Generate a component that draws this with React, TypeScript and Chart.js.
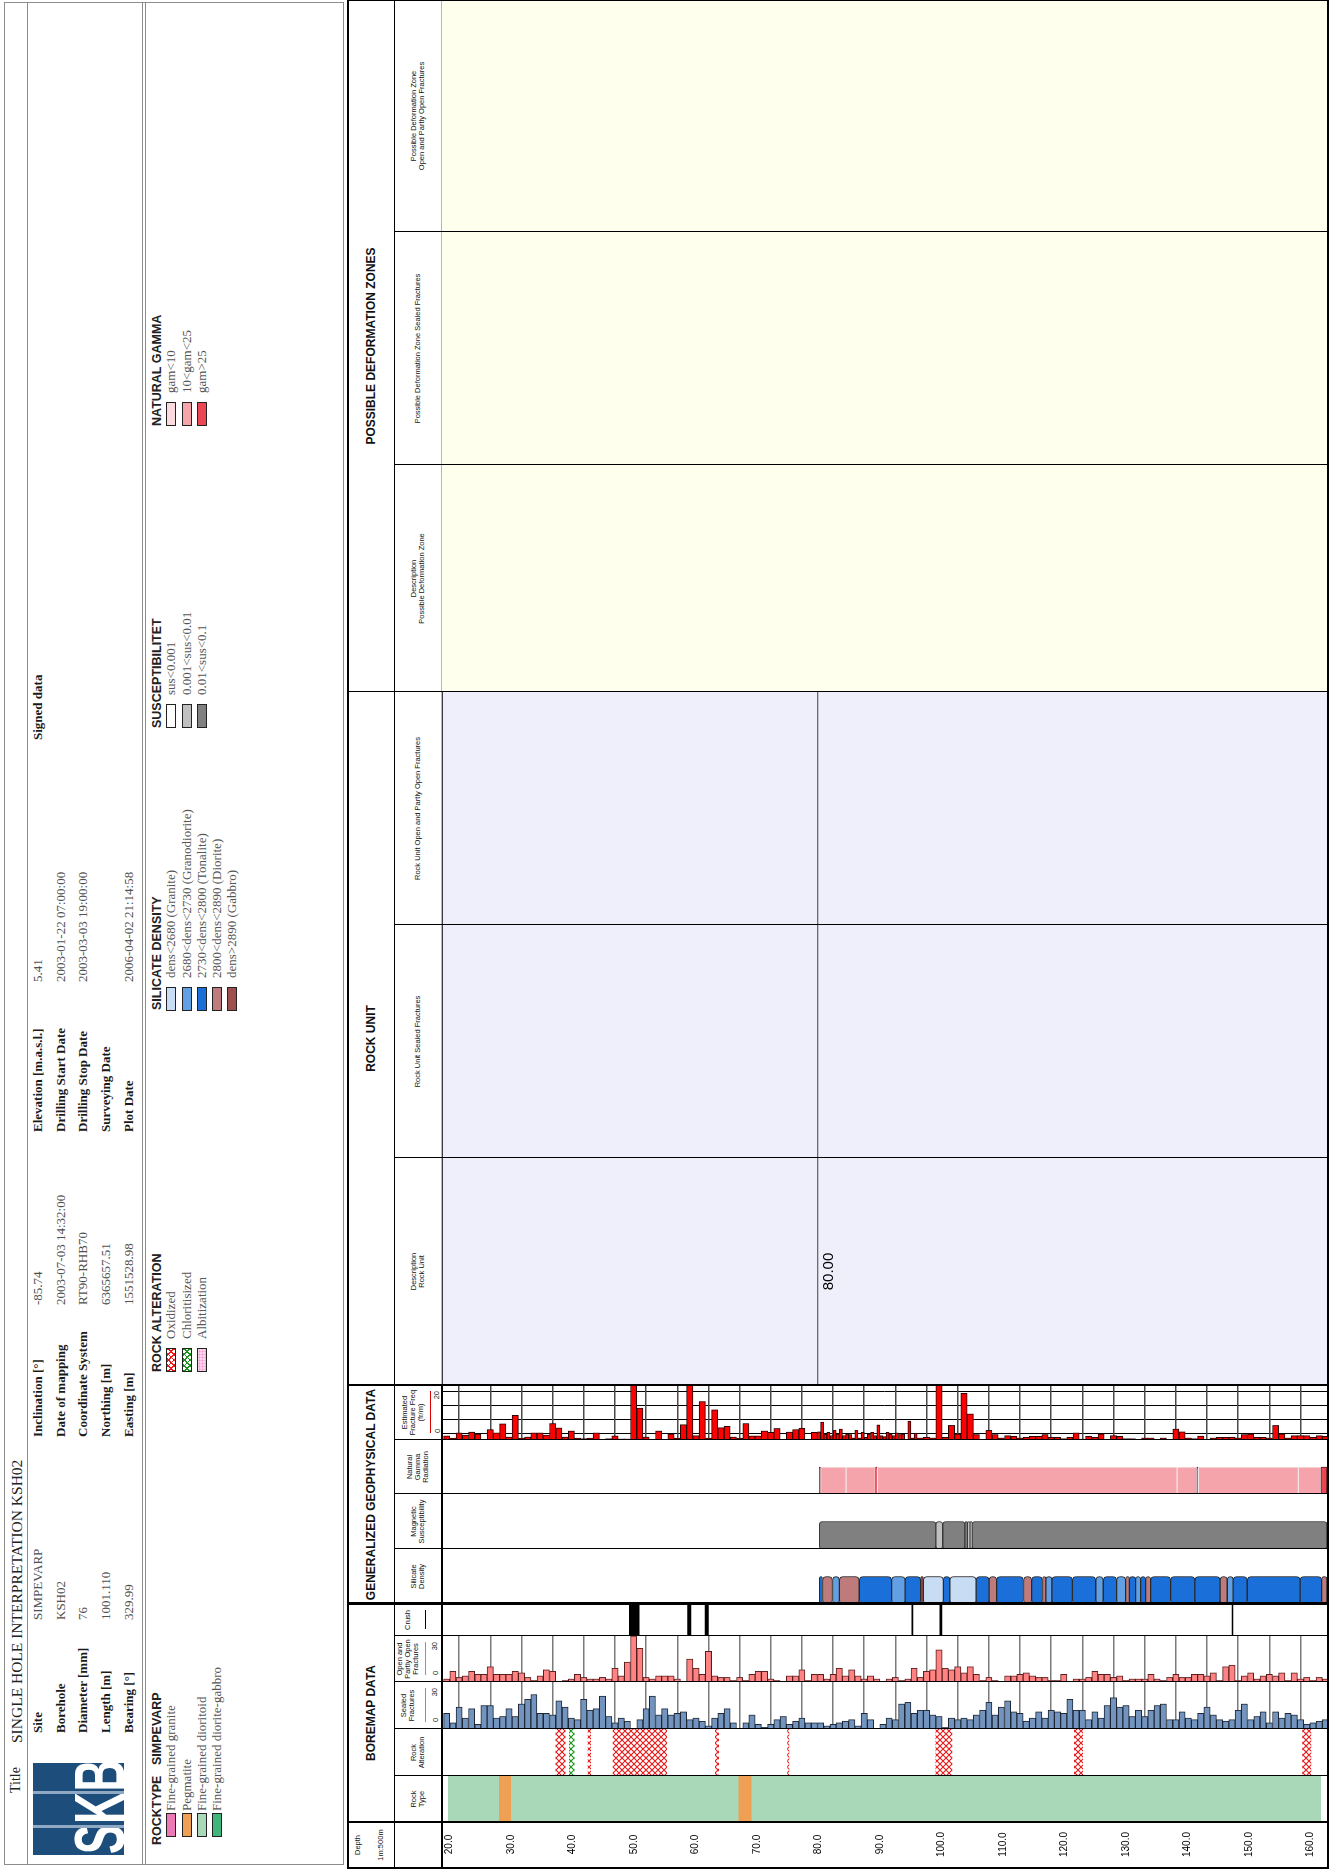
import React, { useEffect, useRef } from "react";
import { Chart, registerables } from "chart.js";

Chart.register(...registerables);
Chart.defaults.font.family = "'Liberation Sans', Arial, sans-serif";

// ---------------- depth axis ----------------
const DEPTH_MIN = 19.75;
const DEPTH_MAX = 161.75;
const DEPTH_LABELS = [20, 30, 40, 50, 60, 70, 80, 90, 100, 110, 120, 130, 140, 150, 160];
const FRACTURE_GRID = [
  20, 25, 30, 35, 40, 45, 50, 55, 60, 65, 70, 75, 80, 85, 90, 95, 100, 105, 110, 115, 120, 125, 130,
  135, 140, 145, 150, 155, 160,
];

// ---------------- fracture histograms (1 m bins from BIN_START) ----------------
const SEALED_MAX = 30;
const OPEN_MAX = 30;
const FREQ_MAX = 20;
const FREQ_GRID = [5, 10, 15];

const BIN_START = 20;
const SEALED_FRACTURES = [
  10, 4, 14, 7, 13, 3, 15, 15, 7, 8,
  13, 8, 16, 19, 22, 10, 10, 9, 18, 14,
  7, 6, 19, 12, 13, 21, 8, 4, 7, 5,
  0, 6, 13, 21, 9, 13, 9, 10, 11, 6,
  7, 5, 2, 7, 10, 13, 4, 0, 4, 9,
  3, 1, 3, 6, 8, 3, 5, 7, 4, 4,
  4, 2, 3, 4, 5, 6, 2, 10, 6, 0,
  3, 7, 6, 16, 17, 10, 12, 12, 9, 8,
  1, 7, 6, 7, 6, 9, 12, 17, 9, 14,
  18, 11, 10, 5, 7, 11, 7, 12, 11, 10,
  19, 12, 12, 6, 11, 7, 15, 20, 14, 15,
  8, 12, 8, 12, 15, 16, 6, 6, 11, 7,
  6, 10, 14, 9, 6, 5, 6, 12, 16, 6,
  8, 11, 4, 11, 7, 10, 9, 6, 3, 4,
  5, 6,
];
const OPEN_FRACTURES = [
  2, 7, 3, 4, 7, 5, 5, 10, 5, 5,
  5, 7, 6, 3, 1, 4, 8, 7, 0, 1,
  2, 5, 3, 2, 2, 3, 2, 9, 4, 13,
  30, 22, 3, 2, 4, 4, 4, 2, 0, 15,
  9, 5, 20, 4, 3, 3, 1, 3, 1, 5,
  7, 7, 2, 1, 0, 4, 4, 8, 1, 5,
  5, 2, 5, 9, 4, 8, 4, 2, 4, 2,
  0, 2, 3, 1, 2, 9, 3, 7, 8, 21,
  9, 8, 10, 6, 10, 5, 1, 3, 1, 0,
  4, 4, 5, 6, 4, 3, 3, 1, 1, 5,
  0, 2, 2, 3, 7, 5, 5, 3, 4, 1,
  2, 2, 2, 5, 2, 1, 3, 5, 3, 3,
  5, 5, 4, 6, 1, 10, 11, 1, 4, 6,
  2, 4, 5, 4, 6, 1, 6, 2, 3, 1,
  3, 2,
];

// estimated fracture frequency: 1 m bins, a 0.5 m stretch, then 1 m bins again
const FREQ_UPPER_START = 20;
const FREQ_UPPER = [
  1.5, 0.7, 2.6, 1.8, 2.9, 2.2, 0, 3.8, 2.6, 5.9,
  1.1, 9, 0.7, 1.1, 2.6, 2.6, 1.8, 6, 4.4, 1.1,
  3.3, 0.7, 0.5, 0.7, 2.6, 0, 0.5, 1.5, 0.4, 0.4,
  24, 11.6, 1.1, 0, 3.3, 0.2, 2.2, 0.7, 5.6, 24,
  1.6, 14, 0.7, 11, 4.5, 5, 1.1, 0.7, 6, 1.5,
  1.5, 3.3, 2.8, 4.2, 0, 2.9, 3.8, 4.3, 0, 2.8,
];
const FREQ_FINE_START = 80;
const FREQ_FINE = [
  3, 6.5, 2.2, 2.8, 1.6, 3.5, 2.2, 4, 1.6, 2.2,
  2, 0.75, 3.5, 0.75, 2.8, 1, 2.2, 2.8, 1.6, 5.5,
  1.6, 1.25, 2.8, 2.2, 1.6, 2.6, 2, 2.2, 0.25, 6.9,
  0.75, 2.5,
];
const FREQ_LOWER_START = 96;
const FREQ_LOWER = [
  0.75, 1, 0.75, 24, 1, 5.3, 2.2, 17, 9.5, 2,
  0, 3.5, 2, 0.75, 1.6, 1.35, 0.75, 1, 1.35, 1.35,
  2, 1, 1, 0.5, 1, 2.6, 0.35, 1.35, 1, 2.2,
  0.25, 1.6, 1.35, 0.5, 0.5, 0.25, 0.75, 0.75, 0, 0.75,
  0.25, 4, 3, 0.75, 0.5, 1.45, 0.25, 0.75, 1, 1,
  1, 0.75, 2, 2.2, 1, 1, 0.75, 5.3, 2.2, 0.75,
  1.6, 1.6, 1.6, 1, 1.6, 1.35,
];

// ---------------- interval logs [from, to, class] ----------------
type Interval = [number, number, string];

const ROCK_TYPE: Interval[] = [
  [19.75, 28.1, "dioritoid"],
  [28.1, 30.05, "pegmatite"],
  [30.05, 67.05, "dioritoid"],
  [67.05, 69.15, "pegmatite"],
  [69.15, 161.75, "dioritoid"],
];

const ROCK_ALTERATION: Interval[] = [
  [38.0, 39.5, "oxidized"],
  [40.2, 40.95, "chloritisized"],
  [43.2, 43.6, "oxidized"],
  [47.2, 49.6, "oxidized"],
  [49.6, 55.8, "oxidized"],
  [63.6, 64.15, "oxidized"],
  [75.2, 75.4, "oxidized"],
  [99.0, 101.55, "oxidized"],
  [121.2, 122.55, "oxidized"],
  [157.85, 159.15, "oxidized"],
];

const CRUSH: Interval[] = [
  [49.8, 51.4, "crush"],
  [59.15, 59.7, "crush"],
  [61.95, 62.5, "crush"],
  [95.15, 95.3, "crush"],
  [99.62, 99.98, "crush"],
  [146.5, 146.65, "crush"],
];

const SILICATE_DENSITY: Interval[] = [
  [80.3, 80.8, "tonalite"],
  [80.8, 82.4, "diorite"],
  [82.4, 83.5, "granodiorite"],
  [83.5, 86.7, "diorite"],
  [86.7, 91.9, "tonalite"],
  [91.9, 94.05, "granodiorite"],
  [94.05, 96.55, "tonalite"],
  [96.55, 97.0, "gabbro"],
  [97.0, 100.2, "granite"],
  [100.2, 101.25, "tonalite"],
  [101.25, 105.45, "granite"],
  [105.45, 107.55, "tonalite"],
  [107.55, 108.75, "diorite"],
  [108.75, 113.05, "tonalite"],
  [113.05, 114.35, "diorite"],
  [114.35, 116.1, "tonalite"],
  [116.1, 116.65, "diorite"],
  [116.65, 117.6, "granodiorite"],
  [117.6, 120.9, "tonalite"],
  [120.9, 124.65, "tonalite"],
  [124.65, 125.85, "granodiorite"],
  [125.85, 128.0, "tonalite"],
  [128.0, 129.45, "granodiorite"],
  [129.45, 130.05, "diorite"],
  [130.05, 131.05, "tonalite"],
  [131.05, 131.85, "granodiorite"],
  [131.85, 132.65, "tonalite"],
  [132.65, 133.45, "diorite"],
  [133.45, 136.65, "tonalite"],
  [136.65, 140.55, "tonalite"],
  [140.55, 144.6, "tonalite"],
  [144.6, 145.75, "diorite"],
  [145.75, 146.7, "granodiorite"],
  [146.7, 148.95, "tonalite"],
  [148.95, 157.45, "tonalite"],
  [157.45, 160.9, "tonalite"],
  [160.9, 161.75, "diorite"],
];

const MAGNETIC_SUSCEPTIBILITY: Interval[] = [
  [80.3, 99.0, "high"],
  [99.0, 100.1, "mid"],
  [100.1, 103.65, "high"],
  [103.65, 104.05, "high"],
  [104.05, 104.5, "mid"],
  [104.5, 104.8, "mid"],
  [104.8, 161.75, "high"],
];

const NATURAL_GAMMA: Interval[] = [
  [80.3, 80.5, "high"],
  [80.5, 84.6, "mid"],
  [84.6, 89.3, "mid"],
  [89.3, 89.6, "high"],
  [89.6, 137.7, "mid"],
  [137.7, 140.85, "mid"],
  [140.85, 141.1, "high"],
  [141.1, 157.15, "mid"],
  [157.15, 160.75, "mid"],
  [160.75, 161.75, "high"],
];

const ROCK_UNIT_TOPS = [19.75, 80.0];
const ROCK_UNITS: [number, number][] = ROCK_UNIT_TOPS.map((top, i) => [
  top,
  i + 1 < ROCK_UNIT_TOPS.length ? ROCK_UNIT_TOPS[i + 1] : DEPTH_MAX,
]);

// ---------------- colours and legends ----------------
const ROCK_COLORS: Record<string, string> = {
  granite: "#EC78B6",
  pegmatite: "#F0A055",
  dioritoid: "#A9D8B8",
  dioriteGabbro: "#40B77A",
};
const ROCKTYPE_LEGEND: [string, string][] = [
  ["granite", "Fine-grained granite"],
  ["pegmatite", "Pegmatite"],
  ["dioritoid", "Fine-grained dioritoid"],
  ["dioriteGabbro", "Fine-grained diorite-gabbro"],
];

const ALTERATION_COLORS: Record<string, string> = {
  oxidized: "#E81818",
  chloritisized: "#169416",
  albitization: "#F49AD0",
};
const ALTERATION_LEGEND: [string, string][] = [
  ["oxidized", "Oxidized"],
  ["chloritisized", "Chloritisized"],
  ["albitization", "Albitization"],
];

const DENSITY_COLORS: Record<string, string> = {
  granite: "#C8DCF4",
  granodiorite: "#62A0E6",
  tonalite: "#1B6FD8",
  diorite: "#BF7B7B",
  gabbro: "#A04F4F",
};
const DENSITY_LEGEND: [string, string][] = [
  ["granite", "dens<2680 (Granite)"],
  ["granodiorite", "2680<dens<2730 (Granodiorite)"],
  ["tonalite", "2730<dens<2800 (Tonalite)"],
  ["diorite", "2800<dens<2890 (Diorite)"],
  ["gabbro", "dens>2890 (Gabbro)"],
];

const SUSCEPTIBILITY_COLORS: Record<string, string> = { low: "#FFFFFF", mid: "#C0C0C0", high: "#808080" };
const SUSCEPTIBILITY_LEGEND: [string, string][] = [
  ["low", "sus<0.001"],
  ["mid", "0.001<sus<0.01"],
  ["high", "0.01<sus<0.1"],
];

const GAMMA_COLORS: Record<string, string> = { low: "#FBDADF", mid: "#F5A4AB", high: "#EC4654" };
const GAMMA_LEGEND: [string, string][] = [
  ["low", "gam<10"],
  ["mid", "10<gam<25"],
  ["high", "gam>25"],
];

const SEALED_FILL = "#7294BE";
const OPEN_FILL = "#FF8383";
const FREQ_FILL = "#FF0000";
const ROCK_UNIT_FILL = "#EFEFFC";
const DEFORMATION_FILL = "#FFFFEE";

// ---------------- chart helpers ----------------
const base = (scales: any, extra: any = {}) => ({
  animation: false,
  responsive: false,
  maintainAspectRatio: false,
  devicePixelRatio: 1,
  events: [],
  layout: { padding: 0 },
  plugins: { legend: { display: false }, tooltip: { enabled: false }, title: { display: false } },
  scales,
  ...extra,
});

const depthAxis = (extra: any = {}) => ({
  type: "linear",
  reverse: true,
  min: DEPTH_MIN,
  max: DEPTH_MAX,
  offset: false,
  display: false,
  ...extra,
});

const laneAxis = (lanes: string[]) => ({ type: "category", labels: lanes, offset: true, display: false });

function crossHatch(ctx: CanvasRenderingContext2D, color: string) {
  const tile = document.createElement("canvas");
  tile.width = 6;
  tile.height = 6;
  const g = tile.getContext("2d")!;
  g.strokeStyle = color;
  g.lineWidth = 1.1;
  g.beginPath();
  g.moveTo(0, 0);
  g.lineTo(6, 6);
  g.moveTo(6, 0);
  g.lineTo(0, 6);
  g.stroke();
  return ctx.createPattern(tile, "repeat");
}

function segmentChart(intervals: Interval[], fillOf: (k: string, ctx: any) => any, o: any = {}) {
  return (ctx: CanvasRenderingContext2D) => ({
    type: "bar",
    data: {
      datasets: [
        {
          data: intervals.map(([a, b]) => ({ x: "lane", y: [a, b] })),
          backgroundColor: intervals.map((s) => fillOf(s[2], ctx)),
          borderColor: o.border ? intervals.map((s) => o.border(s[2])) : "rgba(0,0,0,0)",
          borderWidth: o.borderWidth ?? 0,
          borderRadius: o.radius ?? 0,
          borderSkipped: false,
          barPercentage: 1,
          categoryPercentage: 1,
          grouped: false,
        },
      ],
    },
    options: base(
      { x: laneAxis(o.halfWidth ? ["lane", "rest"] : ["lane"]), y: depthAxis(o.depthAxis || {}) },
      o.extra || {}
    ),
  });
}

type Series = { start: number; step: number; values: number[] };

function histogramChart(series: Series[], max: number, fill: string, stroke: string, gridColor: string, valueGrid: number[] | null) {
  return () => {
    const scales: any = {
      x: valueGrid
        ? {
            type: "linear",
            min: 0,
            max,
            offset: false,
            display: true,
            ticks: { display: false },
            grid: { color: "#000", lineWidth: 1, drawTicks: false },
            border: { display: false },
            afterBuildTicks: (sc: any) => {
              sc.ticks = valueGrid.map((value) => ({ value }));
            },
          }
        : { type: "linear", min: 0, max, offset: false, display: false },
    };
    const datasets = series.map((s, i) => {
      const id = i === 0 ? "y" : `y${i}`;
      scales[id] =
        i === 0
          ? depthAxis({
              display: true,
              ticks: { display: false },
              grid: { color: gridColor, lineWidth: 1.5, drawTicks: false },
              border: { display: false },
              afterBuildTicks: (sc: any) => {
                sc.ticks = FRACTURE_GRID.map((value) => ({ value }));
              },
            })
          : depthAxis();
      return {
        indexAxis: "y",
        xAxisID: "x",
        yAxisID: id,
        data: s.values.map((v, j) => ({ y: s.start + (j + 0.5) * s.step, x: v })),
        backgroundColor: fill,
        borderColor: stroke,
        borderWidth: 1,
        borderSkipped: "start",
        barPercentage: 1,
        categoryPercentage: 1,
        grouped: false,
      };
    });
    return { type: "bar", data: { datasets }, options: base(scales) };
  };
}

const unitTopLabels = {
  id: "unitTopLabels",
  afterDatasetsDraw(chart: any) {
    const { ctx, chartArea, scales } = chart;
    ctx.save();
    ctx.fillStyle = "#000";
    ctx.font = "15px 'Liberation Sans', Arial, sans-serif";
    ctx.textAlign = "center";
    ctx.textBaseline = "top";
    ROCK_UNITS.forEach(([top]) => {
      if (top <= DEPTH_MIN) return;
      ctx.fillText(top.toFixed(2), (chartArea.left + chartArea.right) / 2, scales.y.getPixelForValue(top) + 4);
    });
    ctx.restore();
  },
};

function rockUnitChart(withLabels: boolean) {
  return () => ({
    type: "bar",
    data: {
      datasets: [
        {
          data: ROCK_UNITS.map(([a, b]) => ({ x: "lane", y: [a, b] })),
          backgroundColor: ROCK_UNIT_FILL,
          borderColor: "#000",
          borderWidth: { top: 1, right: 0, bottom: 0, left: 0 },
          borderSkipped: false,
          barPercentage: 1,
          categoryPercentage: 1,
          grouped: false,
        },
      ],
    },
    options: base({ x: laneAxis(["lane"]), y: depthAxis() }),
    plugins: withLabels ? [unitTopLabels] : [],
  });
}

// ---------------- chart factories ----------------
const makeRockType = segmentChart(ROCK_TYPE, (k) => ROCK_COLORS[k], {
  extra: { layout: { padding: { top: 10, bottom: 10, left: 0, right: 0 } } },
  depthAxis: {
    display: true,
    position: "left",
    afterFit: (s: any) => {
      s.width = 47;
    },
    afterBuildTicks: (s: any) => {
      s.ticks = DEPTH_LABELS.map((value) => ({ value }));
    },
    ticks: {
      display: true,
      autoSkip: false,
      maxRotation: 0,
      color: "#000",
      font: { size: 10 },
      padding: 10,
      crossAlign: "center",
      callback: (v: any) => Number(v).toFixed(1),
    },
    grid: { display: false, drawTicks: false },
    border: { display: false },
  },
});

const makeAlteration = (ctx: CanvasRenderingContext2D) => {
  const patterns: Record<string, any> = {
    oxidized: crossHatch(ctx, ALTERATION_COLORS.oxidized),
    chloritisized: crossHatch(ctx, ALTERATION_COLORS.chloritisized),
    albitization: ALTERATION_COLORS.albitization,
  };
  return segmentChart(ROCK_ALTERATION, (k) => patterns[k])(ctx);
};

const makeSealed = histogramChart(
  [{ start: BIN_START, step: 1, values: SEALED_FRACTURES }],
  SEALED_MAX,
  SEALED_FILL,
  "#1E2836",
  "#7A7A7A",
  null
);
const makeOpen = histogramChart(
  [{ start: BIN_START, step: 1, values: OPEN_FRACTURES }],
  OPEN_MAX,
  OPEN_FILL,
  "#5A1E1E",
  "#7A7A7A",
  null
);
const makeFreq = histogramChart(
  [
    { start: FREQ_UPPER_START, step: 1, values: FREQ_UPPER },
    { start: FREQ_FINE_START, step: 0.5, values: FREQ_FINE },
    { start: FREQ_LOWER_START, step: 1, values: FREQ_LOWER },
  ],
  FREQ_MAX,
  FREQ_FILL,
  "#2A0000",
  "#4A4A4A",
  FREQ_GRID
);
const makeCrush = segmentChart(CRUSH, () => "#000000");
const makeDensity = segmentChart(SILICATE_DENSITY, (k) => DENSITY_COLORS[k], {
  halfWidth: true,
  border: () => "#2A2A2A",
  borderWidth: 1,
  radius: 4,
});
const makeSusceptibility = segmentChart(MAGNETIC_SUSCEPTIBILITY, (k) => SUSCEPTIBILITY_COLORS[k], {
  halfWidth: true,
  border: () => "#3A3A3A",
  borderWidth: 1,
  radius: 3,
});
const makeGamma = segmentChart(NATURAL_GAMMA, (k) => GAMMA_COLORS[k], {
  halfWidth: true,
  border: (k: string) => (k === "high" ? "#5A1A20" : "#F3E6E8"),
  borderWidth: 1,
  radius: 1,
});
const makeUnitDesc = rockUnitChart(true);
const makeUnitPlain = rockUnitChart(false);

// ---------------- components ----------------
function ChartCanvas({ x, y, w, h, make }: any) {
  const ref = useRef<HTMLCanvasElement | null>(null);
  useEffect(() => {
    const canvas = ref.current;
    if (!canvas) return;
    const chart = new Chart(canvas, make(canvas.getContext("2d")) as any);
    return () => chart.destroy();
  }, [make]);
  return (
    <canvas
      ref={ref}
      width={w}
      height={h}
      style={{ position: "absolute", left: x, top: y, width: w, height: h, display: "block" }}
    />
  );
}

const SANS = "'Liberation Sans', Arial, sans-serif";
const SERIF = "'Liberation Serif', 'Times New Roman', serif";

function Txt({ x, cy, size, bold, serif, color, center, children }: any) {
  const lh = Math.round(size * 1.25);
  return (
    <div
      style={{
        position: "absolute",
        left: center ? x - 300 : x,
        width: center ? 600 : undefined,
        textAlign: center ? "center" : "left",
        top: cy - lh / 2,
        lineHeight: `${lh}px`,
        fontSize: size,
        fontWeight: bold ? "bold" : "normal",
        fontFamily: serif ? SERIF : SANS,
        color: color || "#000",
        whiteSpace: "nowrap",
      }}
    >
      {children}
    </div>
  );
}

function Line({ x, y, w, h, color }: any) {
  return <div style={{ position: "absolute", left: x, top: y, width: w, height: h, background: color || "#000" }} />;
}

function Swatch({ x, cy, fill }: any) {
  return (
    <div
      style={{
        position: "absolute",
        left: x,
        top: cy - 5,
        width: 22,
        height: 8,
        border: "1px solid #222",
        background: fill,
      }}
    />
  );
}

const hatchCss = (c: string) =>
  `repeating-linear-gradient(45deg, ${c} 0 1px, transparent 1px 4px), repeating-linear-gradient(-45deg, ${c} 0 1px, transparent 1px 4px), #fff`;

function Legend({ x, title, title2, swatchX, textX, items }: any) {
  const rows = [171, 186.5, 202, 217, 232];
  return (
    <>
      <Txt x={x} cy={157} size={12.5} bold color="#222">
        {title}
      </Txt>
      {title2 ? (
        <Txt x={title2[0]} cy={157} size={12.5} bold color="#222">
          {title2[1]}
        </Txt>
      ) : null}
      {items.map((it: any, i: number) => (
        <React.Fragment key={i}>
          <Swatch x={swatchX} cy={rows[i]} fill={it[0]} />
          <Txt x={textX} cy={rows[i]} size={13} serif color="#555">
            {it[1]}
          </Txt>
        </React.Fragment>
      ))}
    </>
  );
}

function Header() {
  const rows = [38, 60.5, 83, 105.5, 128.5];
  const col1 = [
    ["Site", "SIMPEVARP"],
    ["Borehole", "KSH02"],
    ["Diameter [mm]", "76"],
    ["Length [m]", "1001.110"],
    ["Bearing [°]", "329.99"],
  ];
  const col2 = [
    ["Inclination [°]", "-85.74"],
    ["Date of mapping", "2003-07-03 14:32:00"],
    ["Coordinate System", "RT90-RHB70"],
    ["Northing [m]", "6365657.51"],
    ["Easting [m]", "1551528.98"],
  ];
  const col3 = [
    ["Elevation [m.a.s.l.]", "5.41"],
    ["Drilling Start Date", "2003-01-22 07:00:00"],
    ["Drilling Stop Date", "2003-03-03 19:00:00"],
    ["Surveying Date", ""],
    ["Plot Date", "2006-04-02 21:14:58"],
  ];
  const cols: [string[][], number, number][] = [
    [col1, 136, 249],
    [col2, 432, 564],
    [col3, 737, 887],
  ];
  const gray = "#8C8C8C";
  return (
    <>
      <div style={{ position: "absolute", left: 4, top: 4, width: 1861, height: 338, border: `1px solid ${gray}` }} />
      <Line x={4} y={27} w={1862} h={1} color={gray} />
      <Line x={4} y={142} w={1862} h={1} color={gray} />
      <Line x={4} y={145} w={1862} h={1} color={gray} />
      <Txt x={76} cy={16} size={14} serif color="#222">
        Title
      </Txt>
      <Txt x={126} cy={16} size={15.5} serif color="#222">
        SINGLE HOLE INTERPRETATION KSH02
      </Txt>
      {/* SKB logo */}
      <div
        style={{
          position: "absolute",
          left: 14,
          top: 33,
          width: 92,
          height: 91,
          background: "#1D4E7B",
          overflow: "hidden",
        }}
      >
        <div
          style={{
            position: "absolute",
            left: 1,
            top: 32,
            fontFamily: SANS,
            fontWeight: "bold",
            fontSize: 70,
            lineHeight: "70px",
            color: "#fff",
            transform: "scaleX(0.63)",
            transformOrigin: "0 0",
            whiteSpace: "nowrap",
            letterSpacing: 1,
          }}
        >
          SKB
        </div>
        <div style={{ position: "absolute", left: 27, top: 0, width: 3, height: 91, background: "#8FA9C4" }} />
        <div style={{ position: "absolute", left: 61, top: 0, width: 3, height: 91, background: "#8FA9C4" }} />
      </div>
      {cols.map(([col, lx, vx], ci) =>
        col.map((r, ri) => (
          <React.Fragment key={`${ci}-${ri}`}>
            <Txt x={lx} cy={rows[ri]} size={13} bold serif color="#1a1a1a">
              {r[0]}
            </Txt>
            <Txt x={vx} cy={rows[ri]} size={13} serif color="#505050">
              {r[1]}
            </Txt>
          </React.Fragment>
        ))
      )}
      <Txt x={1129} cy={rows[0]} size={13} bold serif color="#1a1a1a">
        Signed data
      </Txt>

      <Legend
        x={24}
        title="ROCKTYPE"
        title2={[104, "SIMPEVARP"]}
        swatchX={32}
        textX={58}
        items={ROCKTYPE_LEGEND.map(([k, t]) => [ROCK_COLORS[k], t])}
      />
      <Legend
        x={497}
        title="ROCK ALTERATION"
        swatchX={497}
        textX={530}
        items={[
          [hatchCss(ALTERATION_COLORS.oxidized), ALTERATION_LEGEND[0][1]],
          [hatchCss(ALTERATION_COLORS.chloritisized), ALTERATION_LEGEND[1][1]],
          [
            `radial-gradient(circle, ${ALTERATION_COLORS.albitization} 0.9px, transparent 1.1px) 0 0 / 3px 3px, #FBD3EA`,
            ALTERATION_LEGEND[2][1],
          ],
        ]}
      />
      <Legend
        x={859}
        title="SILICATE DENSITY"
        swatchX={858}
        textX={891}
        items={DENSITY_LEGEND.map(([k, t]) => [DENSITY_COLORS[k], t])}
      />
      <Legend
        x={1141}
        title="SUSCEPTIBILITET"
        swatchX={1141}
        textX={1174}
        items={SUSCEPTIBILITY_LEGEND.map(([k, t]) => [SUSCEPTIBILITY_COLORS[k], t])}
      />
      <Legend
        x={1443}
        title="NATURAL GAMMA"
        swatchX={1443}
        textX={1476}
        items={GAMMA_LEGEND.map(([k, t]) => [GAMMA_COLORS[k], t])}
      />
    </>
  );
}

// panel geometry (unrotated frame: depth runs downward, tracks run across)
const PLOT_TOP = 442;
const PLOT_H = 885;
const GROUP_TOP = 348;
const SUB_TOP = 394;
const SUB_BOTTOM = 441;
const PANEL_RIGHT = 1869;

const SUB_CELLS: any[] = [
  { x0: 47, x1: 93, lines: ["Rock", "Type"] },
  { x0: 93, x1: 140, lines: ["Rock", "Alteration"] },
  { x0: 140, x1: 187, lines: ["Sealed", "Fractures"], key: { color: SEALED_FILL, max: SEALED_MAX } },
  { x0: 187, x1: 233, lines: ["Open and", "Partly Open", "Fractures"], key: { color: "#F06C6C", max: OPEN_MAX } },
  { x0: 233, x1: 265, lines: ["Crush"], key: { color: "#000" } },
  { x0: 265, x1: 320, lines: ["Silicate", "Density"] },
  { x0: 320, x1: 375, lines: ["Magnetic", "Susceptibility"] },
  { x0: 375, x1: 429, lines: ["Natural", "Gamma", "Radiation"] },
  { x0: 429, x1: 484, lines: ["Estimated", "Fracture Freq", "(fr/m)"], key: { color: "#E00000", max: FREQ_MAX } },
  { x0: 484, x1: 711, lines: ["Description", "Rock Unit"] },
  { x0: 711, x1: 944, lines: ["Rock Unit Sealed Fractures"] },
  { x0: 944, x1: 1177, lines: ["Rock Unit Open and Partly Open Fractures"] },
  { x0: 1177, x1: 1404, lines: ["Description", "Possible Deformation Zone"] },
  { x0: 1404, x1: 1637, lines: ["Possible Deformation Zone Sealed Fractures"] },
  { x0: 1637, x1: 1869, lines: ["Possible Deformation Zone", "Open and Partly Open Fractures"] },
];

const GROUPS: [number, number, string][] = [
  [47, 265, "BOREMAP DATA"],
  [265, 484, "GENERALIZED GEOPHYSICAL DATA"],
  [484, 1177, "ROCK UNIT"],
  [1177, 1869, "POSSIBLE DEFORMATION ZONES"],
];

function SubCell({ cell }: any) {
  const { x0, x1, lines, key } = cell;
  const w = x1 - x0;
  const hasKey = !!key;
  const isFreq = key && key.max === FREQ_MAX;
  const textCy = hasKey ? (isFreq ? 413 : 408) : 418;
  const lh = 8;
  const blockTop = textCy - (lines.length * lh) / 2;
  const lineY = isFreq ? 430 : 425;
  return (
    <>
      <div
        style={{
          position: "absolute",
          left: x0,
          width: w,
          top: blockTop,
          textAlign: "center",
          fontFamily: SANS,
          fontSize: 7.5,
          lineHeight: `${lh}px`,
          color: "#111",
          whiteSpace: "nowrap",
        }}
      >
        {lines.map((l: string, i: number) => (
          <div key={i}>{l}</div>
        ))}
      </div>
      {hasKey ? (
        <>
          <Line x={x0 + 7} y={lineY - 0.5} w={w - 13} h={1.2} color={key.color} />
          {key.max !== undefined ? (
            <>
              <Txt x={x0 + 7} cy={isFreq ? 437 : 435} size={7.5} color="#111">
                0
              </Txt>
              <div
                style={{
                  position: "absolute",
                  left: x0,
                  width: w - 6,
                  top: (isFreq ? 437 : 435) - 5,
                  lineHeight: "10px",
                  textAlign: "right",
                  fontFamily: SANS,
                  fontSize: 7.5,
                  color: "#111",
                }}
              >
                {key.max}
              </div>
            </>
          ) : null}
        </>
      ) : null}
    </>
  );
}

function Panel() {
  const fullEdges: [number, number][] = [
    [47, 2],
    [265, 3],
    [484, 2],
    [1177, 1],
  ];
  const subEdges = [93, 140, 187, 233, 320, 375, 429, 711, 944, 1404, 1637];
  return (
    <>
      {/* data tracks */}
      <ChartCanvas x={0} y={PLOT_TOP - 10} w={93} h={PLOT_H + 20} make={makeRockType} />
      <ChartCanvas x={93} y={PLOT_TOP} w={47} h={PLOT_H} make={makeAlteration} />
      <ChartCanvas x={140} y={PLOT_TOP} w={47} h={PLOT_H} make={makeSealed} />
      <ChartCanvas x={187} y={PLOT_TOP} w={46} h={PLOT_H} make={makeOpen} />
      <ChartCanvas x={233} y={PLOT_TOP} w={32} h={PLOT_H} make={makeCrush} />
      <ChartCanvas x={265} y={PLOT_TOP} w={55} h={PLOT_H} make={makeDensity} />
      <ChartCanvas x={320} y={PLOT_TOP} w={55} h={PLOT_H} make={makeSusceptibility} />
      <ChartCanvas x={375} y={PLOT_TOP} w={54} h={PLOT_H} make={makeGamma} />
      <ChartCanvas x={429} y={PLOT_TOP} w={55} h={PLOT_H} make={makeFreq} />
      <ChartCanvas x={484} y={PLOT_TOP} w={227} h={PLOT_H} make={makeUnitDesc} />
      <ChartCanvas x={711} y={PLOT_TOP} w={233} h={PLOT_H} make={makeUnitPlain} />
      <ChartCanvas x={944} y={PLOT_TOP} w={233} h={PLOT_H} make={makeUnitPlain} />
      <div
        style={{
          position: "absolute",
          left: 1177,
          top: PLOT_TOP,
          width: PANEL_RIGHT - 1177,
          height: PLOT_H,
          background: DEFORMATION_FILL,
        }}
      />

      {/* header cells */}
      <Txt x={24} cy={357} size={7.5} center color="#111">
        Depth
      </Txt>
      <Txt x={24} cy={380} size={7.5} center color="#111">
        1m:500m
      </Txt>
      {GROUPS.map(([a, b, t]) => (
        <Txt key={t} x={(a + b) / 2} cy={371} size={12} bold center color="#111">
          {t}
        </Txt>
      ))}
      {SUB_CELLS.map((c, i) => (
        <SubCell key={i} cell={c} />
      ))}

      {/* frame */}
      <Line x={0} y={GROUP_TOP - 1} w={PANEL_RIGHT} h={2} />
      <Line x={0} y={SUB_TOP - 0.5} w={PANEL_RIGHT} h={1.5} />
      <Line x={0} y={SUB_BOTTOM - 0.5} w={484} h={2} />
      <Line x={484} y={SUB_BOTTOM} w={PANEL_RIGHT - 484} h={1} color="#B8B8B8" />
      <Line x={0} y={PLOT_TOP + PLOT_H} w={PANEL_RIGHT} h={1.5} />
      <Line x={0} y={GROUP_TOP} w={1.5} h={PLOT_TOP + PLOT_H - GROUP_TOP} />
      <Line x={PANEL_RIGHT - 1.5} y={GROUP_TOP} w={1.5} h={PLOT_TOP + PLOT_H - GROUP_TOP} />
      {fullEdges.map(([x, t]) => (
        <Line key={x} x={x - t / 2} y={GROUP_TOP} w={t} h={PLOT_TOP + PLOT_H - GROUP_TOP} />
      ))}
      {subEdges.map((x) => (
        <Line key={x} x={x - 0.5} y={SUB_TOP} w={1} h={PLOT_TOP + PLOT_H - SUB_TOP} />
      ))}
    </>
  );
}

export default function App() {
  return (
    <div
      style={{
        position: "absolute",
        left: 0,
        top: 0,
        width: 1869,
        height: 1337,
        background: "#fff",
        overflow: "hidden",
        transformOrigin: "0 0",
        transform: "translate(0px, 1869px) rotate(-90deg)",
      }}
    >
      <Header />
      <Panel />
    </div>
  );
}
